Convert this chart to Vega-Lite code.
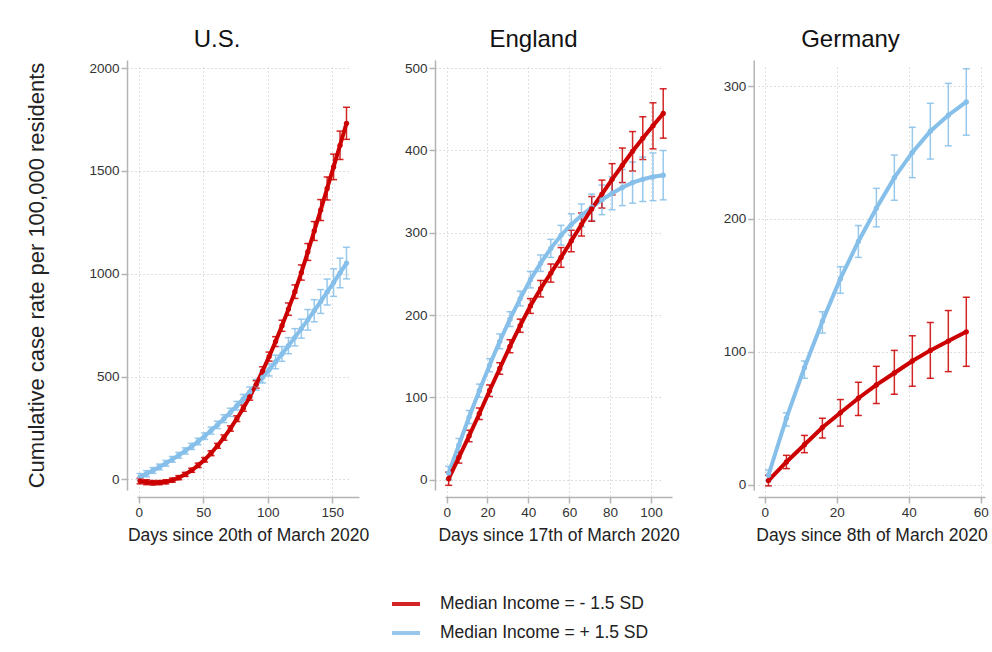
{
  "$schema": "https://vega.github.io/schema/vega-lite/v6.json",
  "background": "white",
  "padding": {"left": 25, "top": 28, "right": 6, "bottom": 5},
  "datasets": {
    "pts": [
      {"c":"US","g":"+","d":1,"v":12,"lo":-4,"hi":28},
      {"c":"US","g":"+","d":6,"v":27,"lo":12,"hi":42},
      {"c":"US","g":"+","d":11,"v":43,"lo":29,"hi":57},
      {"c":"US","g":"+","d":16,"v":60,"lo":46,"hi":74},
      {"c":"US","g":"+","d":21,"v":78,"lo":64,"hi":92},
      {"c":"US","g":"+","d":26,"v":97,"lo":83,"hi":111},
      {"c":"US","g":"+","d":31,"v":117,"lo":103,"hi":131},
      {"c":"US","g":"+","d":36,"v":138,"lo":123,"hi":153},
      {"c":"US","g":"+","d":41,"v":160,"lo":145,"hi":175},
      {"c":"US","g":"+","d":46,"v":184,"lo":168,"hi":200},
      {"c":"US","g":"+","d":51,"v":210,"lo":194,"hi":226},
      {"c":"US","g":"+","d":56,"v":237,"lo":220,"hi":254},
      {"c":"US","g":"+","d":61,"v":265,"lo":247,"hi":283},
      {"c":"US","g":"+","d":66,"v":295,"lo":276,"hi":314},
      {"c":"US","g":"+","d":71,"v":326,"lo":306,"hi":346},
      {"c":"US","g":"+","d":76,"v":358,"lo":337,"hi":379},
      {"c":"US","g":"+","d":81,"v":391,"lo":369,"hi":413},
      {"c":"US","g":"+","d":86,"v":425,"lo":401,"hi":449},
      {"c":"US","g":"+","d":91,"v":460,"lo":434,"hi":486},
      {"c":"US","g":"+","d":96,"v":496,"lo":468,"hi":524},
      {"c":"US","g":"+","d":101,"v":533,"lo":503,"hi":563},
      {"c":"US","g":"+","d":106,"v":571,"lo":538,"hi":604},
      {"c":"US","g":"+","d":111,"v":610,"lo":574,"hi":646},
      {"c":"US","g":"+","d":116,"v":650,"lo":611,"hi":689},
      {"c":"US","g":"+","d":121,"v":691,"lo":649,"hi":733},
      {"c":"US","g":"+","d":126,"v":733,"lo":687,"hi":779},
      {"c":"US","g":"+","d":131,"v":776,"lo":726,"hi":826},
      {"c":"US","g":"+","d":136,"v":820,"lo":766,"hi":874},
      {"c":"US","g":"+","d":141,"v":865,"lo":807,"hi":923},
      {"c":"US","g":"+","d":146,"v":911,"lo":848,"hi":974},
      {"c":"US","g":"+","d":151,"v":957,"lo":890,"hi":1024},
      {"c":"US","g":"+","d":156,"v":1004,"lo":932,"hi":1076},
      {"c":"US","g":"+","d":161,"v":1052,"lo":975,"hi":1129},
      {"c":"US","g":"-","d":1,"v":-8,"lo":-22,"hi":6},
      {"c":"US","g":"-","d":6,"v":-14,"lo":-26,"hi":-2},
      {"c":"US","g":"-","d":11,"v":-17,"lo":-28,"hi":-6},
      {"c":"US","g":"-","d":16,"v":-16,"lo":-26,"hi":-6},
      {"c":"US","g":"-","d":21,"v":-12,"lo":-22,"hi":-2},
      {"c":"US","g":"-","d":26,"v":-4,"lo":-14,"hi":6},
      {"c":"US","g":"-","d":31,"v":8,"lo":-2,"hi":18},
      {"c":"US","g":"-","d":36,"v":24,"lo":14,"hi":34},
      {"c":"US","g":"-","d":41,"v":44,"lo":34,"hi":54},
      {"c":"US","g":"-","d":46,"v":68,"lo":57,"hi":79},
      {"c":"US","g":"-","d":51,"v":95,"lo":84,"hi":106},
      {"c":"US","g":"-","d":56,"v":127,"lo":115,"hi":139},
      {"c":"US","g":"-","d":61,"v":163,"lo":151,"hi":175},
      {"c":"US","g":"-","d":66,"v":203,"lo":190,"hi":216},
      {"c":"US","g":"-","d":71,"v":247,"lo":234,"hi":260},
      {"c":"US","g":"-","d":76,"v":295,"lo":281,"hi":309},
      {"c":"US","g":"-","d":81,"v":346,"lo":331,"hi":361},
      {"c":"US","g":"-","d":86,"v":401,"lo":385,"hi":417},
      {"c":"US","g":"-","d":91,"v":462,"lo":444,"hi":480},
      {"c":"US","g":"-","d":96,"v":528,"lo":508,"hi":548},
      {"c":"US","g":"-","d":101,"v":597,"lo":575,"hi":619},
      {"c":"US","g":"-","d":106,"v":670,"lo":646,"hi":694},
      {"c":"US","g":"-","d":111,"v":747,"lo":720,"hi":774},
      {"c":"US","g":"-","d":116,"v":828,"lo":798,"hi":858},
      {"c":"US","g":"-","d":121,"v":913,"lo":880,"hi":946},
      {"c":"US","g":"-","d":126,"v":1006,"lo":969,"hi":1043},
      {"c":"US","g":"-","d":131,"v":1106,"lo":1065,"hi":1147},
      {"c":"US","g":"-","d":136,"v":1208,"lo":1162,"hi":1254},
      {"c":"US","g":"-","d":141,"v":1310,"lo":1259,"hi":1361},
      {"c":"US","g":"-","d":146,"v":1415,"lo":1359,"hi":1471},
      {"c":"US","g":"-","d":151,"v":1520,"lo":1458,"hi":1582},
      {"c":"US","g":"-","d":156,"v":1625,"lo":1556,"hi":1694},
      {"c":"US","g":"-","d":161,"v":1732,"lo":1654,"hi":1810},
      {"c":"EN","g":"+","d":1,"v":8,"lo":0,"hi":16},
      {"c":"EN","g":"+","d":6,"v":42,"lo":34,"hi":50},
      {"c":"EN","g":"+","d":11,"v":76,"lo":68,"hi":84},
      {"c":"EN","g":"+","d":16,"v":108,"lo":100,"hi":116},
      {"c":"EN","g":"+","d":21,"v":139,"lo":131,"hi":147},
      {"c":"EN","g":"+","d":26,"v":168,"lo":159,"hi":177},
      {"c":"EN","g":"+","d":31,"v":195,"lo":186,"hi":204},
      {"c":"EN","g":"+","d":36,"v":220,"lo":211,"hi":229},
      {"c":"EN","g":"+","d":41,"v":243,"lo":233,"hi":253},
      {"c":"EN","g":"+","d":46,"v":263,"lo":253,"hi":273},
      {"c":"EN","g":"+","d":51,"v":281,"lo":270,"hi":292},
      {"c":"EN","g":"+","d":56,"v":297,"lo":285,"hi":309},
      {"c":"EN","g":"+","d":61,"v":310,"lo":297,"hi":323},
      {"c":"EN","g":"+","d":66,"v":321,"lo":307,"hi":335},
      {"c":"EN","g":"+","d":71,"v":331,"lo":315,"hi":347},
      {"c":"EN","g":"+","d":76,"v":340,"lo":322,"hi":358},
      {"c":"EN","g":"+","d":81,"v":348,"lo":328,"hi":368},
      {"c":"EN","g":"+","d":86,"v":355,"lo":333,"hi":377},
      {"c":"EN","g":"+","d":91,"v":361,"lo":336,"hi":386},
      {"c":"EN","g":"+","d":96,"v":365,"lo":338,"hi":392},
      {"c":"EN","g":"+","d":101,"v":368,"lo":339,"hi":397},
      {"c":"EN","g":"+","d":106,"v":370,"lo":340,"hi":400},
      {"c":"EN","g":"-","d":1,"v":1,"lo":-7,"hi":9},
      {"c":"EN","g":"-","d":6,"v":27,"lo":20,"hi":34},
      {"c":"EN","g":"-","d":11,"v":53,"lo":46,"hi":60},
      {"c":"EN","g":"-","d":16,"v":80,"lo":73,"hi":87},
      {"c":"EN","g":"-","d":21,"v":108,"lo":101,"hi":115},
      {"c":"EN","g":"-","d":26,"v":135,"lo":128,"hi":142},
      {"c":"EN","g":"-","d":31,"v":162,"lo":154,"hi":170},
      {"c":"EN","g":"-","d":36,"v":187,"lo":179,"hi":195},
      {"c":"EN","g":"-","d":41,"v":211,"lo":202,"hi":220},
      {"c":"EN","g":"-","d":46,"v":232,"lo":222,"hi":242},
      {"c":"EN","g":"-","d":51,"v":251,"lo":240,"hi":262},
      {"c":"EN","g":"-","d":56,"v":270,"lo":258,"hi":282},
      {"c":"EN","g":"-","d":61,"v":290,"lo":277,"hi":303},
      {"c":"EN","g":"-","d":66,"v":310,"lo":296,"hi":324},
      {"c":"EN","g":"-","d":71,"v":329,"lo":314,"hi":344},
      {"c":"EN","g":"-","d":76,"v":347,"lo":330,"hi":364},
      {"c":"EN","g":"-","d":81,"v":365,"lo":346,"hi":384},
      {"c":"EN","g":"-","d":86,"v":382,"lo":361,"hi":403},
      {"c":"EN","g":"-","d":91,"v":399,"lo":375,"hi":423},
      {"c":"EN","g":"-","d":96,"v":415,"lo":389,"hi":441},
      {"c":"EN","g":"-","d":101,"v":430,"lo":402,"hi":458},
      {"c":"EN","g":"-","d":106,"v":445,"lo":415,"hi":475},
      {"c":"DE","g":"+","d":1,"v":7,"lo":3,"hi":11},
      {"c":"DE","g":"+","d":6,"v":50,"lo":44,"hi":54},
      {"c":"DE","g":"+","d":11,"v":88,"lo":80,"hi":93},
      {"c":"DE","g":"+","d":16,"v":123,"lo":114,"hi":130},
      {"c":"DE","g":"+","d":21,"v":155,"lo":144,"hi":164},
      {"c":"DE","g":"+","d":26,"v":183,"lo":171,"hi":195},
      {"c":"DE","g":"+","d":31,"v":208,"lo":194,"hi":223},
      {"c":"DE","g":"+","d":36,"v":231,"lo":214,"hi":248},
      {"c":"DE","g":"+","d":41,"v":250,"lo":231,"hi":269},
      {"c":"DE","g":"+","d":46,"v":266,"lo":245,"hi":287},
      {"c":"DE","g":"+","d":51,"v":278,"lo":255,"hi":302},
      {"c":"DE","g":"+","d":56,"v":288,"lo":263,"hi":313},
      {"c":"DE","g":"-","d":1,"v":3,"lo":-1,"hi":7},
      {"c":"DE","g":"-","d":6,"v":17,"lo":12,"hi":22},
      {"c":"DE","g":"-","d":11,"v":30,"lo":24,"hi":37},
      {"c":"DE","g":"-","d":16,"v":43,"lo":35,"hi":50},
      {"c":"DE","g":"-","d":21,"v":54,"lo":44,"hi":64},
      {"c":"DE","g":"-","d":26,"v":65,"lo":52,"hi":77},
      {"c":"DE","g":"-","d":31,"v":75,"lo":61,"hi":89},
      {"c":"DE","g":"-","d":36,"v":84,"lo":68,"hi":101},
      {"c":"DE","g":"-","d":41,"v":93,"lo":74,"hi":112},
      {"c":"DE","g":"-","d":46,"v":101,"lo":80,"hi":122},
      {"c":"DE","g":"-","d":51,"v":108,"lo":85,"hi":131},
      {"c":"DE","g":"-","d":56,"v":115,"lo":89,"hi":141}
    ]
  },
  "data": {"name": "pts"},
  "config": {
    "font": "Liberation Sans",
    "view": {"stroke": null},
    "axis": {
      "grid": true, "gridDash": [1.2, 2.8], "gridColor": "#c8c8c8", "gridWidth": 1,
      "domainColor": "#b4b4b4", "domainWidth": 1.5, "tickColor": "#b4b4b4", "tickSize": 6, "tickWidth": 1.5,
      "labelFontSize": 13.5, "labelColor": "#333333", "labelPadding": 2, "labelFlush": false, "labelOverlap": false,
      "titleFontSize": 17.5, "titleFontWeight": "normal", "titleColor": "#222222"
    },
    "axisX": {"offset": 7, "titlePadding": 8},
    "axisY": {"offset": 10, "titlePadding": 40, "titleFontSize": 22},
    "legend": {"labelLimit": 0},
    "title": {"fontSize": 24, "fontWeight": "normal", "anchor": "middle", "frame": "group", "baseline": "alphabetic", "offset": 7.7, "color": "#111111"}
  },
  "hconcat": [
    {
      "width": 222, "height": 430,
      "title": {"text": "U.S.", "dx": -31},
      "transform": [{"filter": "datum.c == 'US'"}],
      "encoding": {
        "x": {"field": "d", "type": "quantitative", "scale": {"domain": [-1.4, 170.7], "nice": false, "zero": false}, "axis": {"values": [0, 50, 100, 150], "title": "Days since 20th of March 2020"}},
        "color": {"field": "g", "type": "nominal", "scale": {"domain": ["-", "+"], "range": ["#cc0000", "#86bfe9"]},
          "legend": {"orient": "none", "legendX": 253, "legendY": 528, "direction": "vertical", "title": null, "symbolType": "stroke", "symbolStrokeWidth": 4, "symbolSize": 784, "labelFontSize": 17.5, "labelOffset": 18, "labelLimit": 0, "labelColor": "#222222", "rowPadding": 4,
            "labelExpr": "datum.value == '-' ? 'Median Income = - 1.5 SD' : 'Median Income = + 1.5 SD'"}}
      },
      "layer": [
        {"mark": {"type": "errorbar", "ticks": {"size": 7}, "thickness": 1.5, "opacity": 0.85},
         "encoding": {"y": {"field": "lo", "type": "quantitative", "scale": {"domain": [-52, 2040], "nice": false, "zero": false}, "axis": {"values": [0, 500, 1000, 1500, 2000], "format": "d"}, "title": "Cumulative case rate per 100,000 residents"}, "y2": {"field": "hi"}}},
        {"mark": {"type": "line", "strokeWidth": 4}, "encoding": {"y": {"field": "v", "type": "quantitative", "title": "Cumulative case rate per 100,000 residents"}}},
        {"mark": {"type": "circle", "size": 28, "opacity": 1}, "encoding": {"y": {"field": "v", "type": "quantitative", "title": "Cumulative case rate per 100,000 residents"}}}
      ]
    },
    {
      "width": 227, "height": 430,
      "title": {"text": "England", "dx": -25},
      "transform": [{"filter": "datum.c == 'EN'"}],
      "encoding": {
        "x": {"field": "d", "type": "quantitative", "scale": {"domain": [-0.8, 110.3], "nice": false, "zero": false}, "axis": {"values": [0, 20, 40, 60, 80, 100], "title": "Days since 17th of March 2020"}},
        "color": {"field": "g", "type": "nominal", "scale": {"domain": ["-", "+"], "range": ["#cc0000", "#86bfe9"]},
          "legend": {"orient": "none", "legendX": 253, "legendY": 528, "direction": "vertical", "title": null, "symbolType": "stroke", "symbolStrokeWidth": 4, "symbolSize": 784, "labelFontSize": 17.5, "labelOffset": 18, "labelLimit": 0, "labelColor": "#222222", "rowPadding": 4,
            "labelExpr": "datum.value == '-' ? 'Median Income = - 1.5 SD' : 'Median Income = + 1.5 SD'"}}
      },
      "layer": [
        {"mark": {"type": "errorbar", "ticks": {"size": 7}, "thickness": 1.5, "opacity": 0.85},
         "encoding": {"y": {"field": "lo", "type": "quantitative", "scale": {"domain": [-12.7, 510], "nice": false, "zero": false}, "axis": {"values": [0, 100, 200, 300, 400, 500], "format": "d"}, "title": null}, "y2": {"field": "hi"}}},
        {"mark": {"type": "line", "strokeWidth": 4}, "encoding": {"y": {"field": "v", "type": "quantitative", "title": null}}},
        {"mark": {"type": "circle", "size": 28, "opacity": 1}, "encoding": {"y": {"field": "v", "type": "quantitative", "title": null}}}
      ]
    },
    {
      "width": 227, "height": 430,
      "title": {"text": "Germany", "dx": -21},
      "transform": [{"filter": "datum.c == 'DE'"}],
      "encoding": {
        "x": {"field": "d", "type": "quantitative", "scale": {"domain": [-1.9, 61.2], "nice": false, "zero": false}, "axis": {"values": [0, 20, 40, 60], "title": "Days since 8th of March 2020"}},
        "color": {"field": "g", "type": "nominal", "scale": {"domain": ["-", "+"], "range": ["#cc0000", "#86bfe9"]},
          "legend": {"orient": "none", "legendX": 253, "legendY": 528, "direction": "vertical", "title": null, "symbolType": "stroke", "symbolStrokeWidth": 4, "symbolSize": 784, "labelFontSize": 17.5, "labelOffset": 18, "labelLimit": 0, "labelColor": "#222222", "rowPadding": 4,
            "labelExpr": "datum.value == '-' ? 'Median Income = - 1.5 SD' : 'Median Income = + 1.5 SD'"}}
      },
      "layer": [
        {"mark": {"type": "errorbar", "ticks": {"size": 7}, "thickness": 1.5, "opacity": 0.85},
         "encoding": {"y": {"field": "lo", "type": "quantitative", "scale": {"domain": [-4.1, 319.6], "nice": false, "zero": false}, "axis": {"values": [0, 100, 200, 300], "format": "d", "offset": 4.3}, "title": null}, "y2": {"field": "hi"}}},
        {"mark": {"type": "line", "strokeWidth": 4}, "encoding": {"y": {"field": "v", "type": "quantitative", "title": null}}},
        {"mark": {"type": "circle", "size": 28, "opacity": 1}, "encoding": {"y": {"field": "v", "type": "quantitative", "title": null}}}
      ]
    }
  ],
  "spacing": 86,
  "bounds": "flush",
  "resolve": {"scale": {"x": "independent", "y": "independent", "color": "shared"}}
}
